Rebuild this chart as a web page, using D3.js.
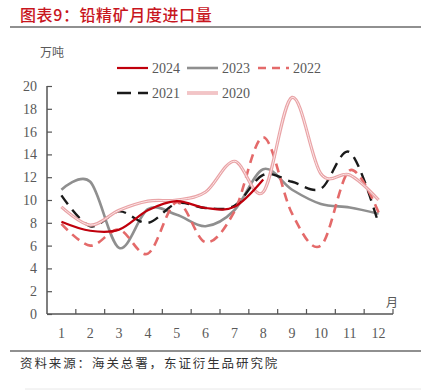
<!DOCTYPE html>
<html><head><meta charset="utf-8">
<script src="https://cdn.jsdelivr.net/npm/d3@7"></script>
<style>body{margin:0;background:#fff}svg{display:block}</style>
</head><body>
<script>
const months = ["1","2","3","4","5","6","7","8","9","10","11","12"];
const yTicks = [0,2,4,6,8,10,12,14,16,18,20];
const s2024 = [8.1, 7.3, 7.4, 9.1, 9.9, 9.3, 9.4, 11.8];
const s2023 = [10.9, 11.6, 5.8, 9.2, 8.7, 7.7, 9.1, 12.7, 10.9, 9.65, 9.35, 8.8];
const s2022 = [7.9, 6.0, 7.4, 5.3, 9.8, 6.3, 9.0, 15.5, 8.8, 6.0, 12.6, 8.9];
const s2021 = [10.4, 7.7, 9.0, 8.0, 9.7, 9.3, 9.5, 12.2, 11.6, 11.0, 14.2, 7.9];
const s2020 = [9.4, 7.8, 9.1, 9.9, 10.0, 10.7, 13.4, 10.7, 19.0, 12.3, 12.2, 10.0];
const seriesNames = ["2024","2023","2022","2021","2020"];

const W = 423, H = 390;
const svg = d3.select("body").append("svg").attr("width", W).attr("height", H);
const axisColor = "#555";
const textColor = "#595959";
const serif = "'Liberation Serif','DejaVu Serif',serif";
const cjk = "'Noto Sans CJK SC','Noto Sans CJK JP',sans-serif";

// Title
svg.append("text").attr("x", 20).attr("y", 21)
  .attr("font-family", cjk).attr("font-size", 16).attr("font-weight", 500)
  .attr("letter-spacing", 0.6).attr("fill", "#C8161E")
  .text("图表9：铅精矿月度进口量");
svg.append("line").attr("x1", 10).attr("x2", 421).attr("y1", 27).attr("y2", 27)
  .attr("stroke", "#222").attr("stroke-width", 1.2);

const x = d3.scaleBand().domain(months).range([47, 393]);
const y = d3.scaleLinear().domain([0, 20]).range([314, 86]);

// Y axis
const yAxis = d3.axisLeft(y).tickValues(yTicks).tickSize(-5).tickPadding(10).tickFormat(d3.format("d"));
const gy = svg.append("g").attr("transform", "translate(47,0)").call(yAxis);
gy.select(".domain").attr("stroke", axisColor).attr("stroke-width", 1.5).attr("d", "M0,86V314");
gy.selectAll(".tick line").attr("stroke", axisColor).attr("stroke-width", 1.2);
gy.selectAll(".tick text").attr("font-family", serif).attr("font-size", 14).attr("fill", textColor);

// X axis
const gx = svg.append("g").attr("transform", "translate(0,314)");
gx.append("line").attr("x1", 47).attr("x2", 393).attr("stroke", axisColor).attr("stroke-width", 1.5);
const bounds = months.map(m => x(m)).slice(1).concat([393]);
gx.selectAll("line.tk").data(bounds).enter().append("line").attr("class","tk")
  .attr("x1", d => d).attr("x2", d => d).attr("y1", 0).attr("y2", -5)
  .attr("stroke", axisColor).attr("stroke-width", 1.2);
gx.selectAll("text").data(months).enter().append("text")
  .attr("x", d => x(d) + x.bandwidth()/2).attr("y", 24)
  .attr("text-anchor", "middle").attr("font-family", serif).attr("font-size", 14)
  .attr("fill", textColor).text(d => d);

svg.append("text").attr("x", 392).attr("y", 307).attr("text-anchor", "middle")
  .attr("font-family", cjk).attr("font-size", 12).attr("fill", textColor).text("月");
svg.append("text").attr("x", 40).attr("y", 57)
  .attr("font-family", cjk).attr("font-size", 12).attr("fill", textColor).text("万吨");

// Lines
const line = d3.line()
  .x((d, i) => x(months[i]) + x.bandwidth()/2)
  .y(d => y(d))
  .curve(d3.curveCatmullRom.alpha(0));

const styles = {
  "2024": {data: s2024, color: "#C0000C", width: 2.2, dash: null},
  "2023": {data: s2023, color: "#8F8F8F", width: 2.6, dash: null},
  "2022": {data: s2022, color: "#E46A6A", width: 2.6, dash: "9,6"},
  "2021": {data: s2021, color: "#1A1A1A", width: 2.4, dash: "11,7"},
  "2020": {data: s2020, color: "#E9A3A6", width: 3.2, dash: null, inner: "#FCE6E7"}
};
const drawOrder = ["2023","2021","2022","2020","2024"];
drawOrder.forEach(k => {
  const st = styles[k];
  svg.append("path").datum(st.data).attr("d", line).attr("fill", "none")
    .attr("stroke", st.color).attr("stroke-width", st.width)
    .attr("stroke-dasharray", st.dash).attr("stroke-linecap", "butt");
  if (st.inner) {
    svg.append("path").datum(st.data).attr("d", line).attr("fill", "none")
      .attr("stroke", st.inner).attr("stroke-width", 1);
  }
});

// Legend
const legendPos = {
  "2024": [117, 68], "2023": [187, 68], "2022": [258, 68],
  "2021": [117, 93], "2020": [187, 93]
};
seriesNames.forEach(k => {
  const st = styles[k];
  const [lx, ly] = legendPos[k];
  const g = svg.append("g");
  g.append("line").attr("x1", lx).attr("x2", lx + 31).attr("y1", ly).attr("y2", ly)
    .attr("stroke", st.color).attr("stroke-width", st.width)
    .attr("stroke-dasharray", k === "2022" ? "8,6" : (k === "2021" ? "14,7" : null));
  if (st.inner) g.append("line").attr("x1", lx).attr("x2", lx + 31).attr("y1", ly).attr("y2", ly)
    .attr("stroke", st.inner).attr("stroke-width", 1);
  g.append("text").attr("x", lx + 35).attr("y", ly + 5)
    .attr("font-family", serif).attr("font-size", 14).attr("fill", textColor).text(k);
});

// Source
svg.append("line").attr("x1", 10).attr("x2", 421).attr("y1", 351).attr("y2", 351)
  .attr("stroke", "#222").attr("stroke-width", 1.2);
svg.append("text").attr("x", 20).attr("y", 368)
  .attr("font-family", cjk).attr("font-size", 12.5).attr("letter-spacing", 1.9).attr("fill", "#333")
  .text("资料来源：海关总署，东证衍生品研究院");
svg.append("line").attr("x1", 25).attr("x2", 421).attr("y1", 389).attr("y2", 389)
  .attr("stroke", "#e8e8e8").attr("stroke-width", 1);
</script>
</body></html>
